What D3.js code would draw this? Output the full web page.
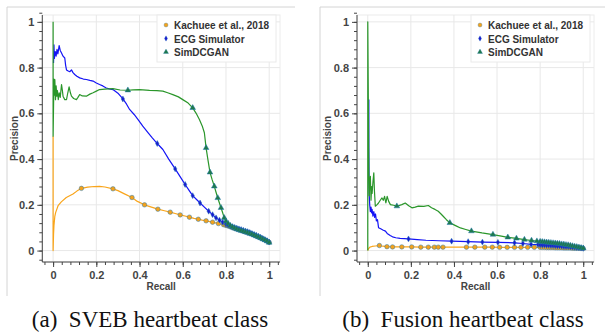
<!DOCTYPE html>
<html>
<head>
<meta charset="utf-8">
<script src="https://d3js.org/d3.v7.min.js"></script>
<style>
  body { margin: 0; background: #fff; }
  .tick text { font-family: "Liberation Sans", Arial, sans-serif; font-weight: bold; font-size: 11px; fill: #444; }
  .axis-label { font-family: "Liberation Sans", Arial, sans-serif; font-weight: bold; font-size: 10px; fill: #444; }
  .legend text { font-family: "Liberation Sans", Arial, sans-serif; font-weight: bold; font-size: 10px; fill: #333; }
  .caption { font-family: "Liberation Serif", "Times New Roman", serif; font-size: 23px; fill: #111; }
</style>
</head>
<body>
<svg width="605" height="332"></svg>
<script>
// legend names
const seriesNames = ['Kachuee et al., 2018', 'ECG Simulator', 'SimDCGAN'];
const tickValues = [0, 0.2, 0.4, 0.6, 0.8, 1];
const captions = ['(a)\u2002SVEB heartbeat class', '(b)\u2002Fusion heartbeat class'];

// recall values of the dense part at the end of every curve
const tailRecall = [0.80, 0.81, 0.82, 0.83, 0.84, 0.85, 0.86, 0.87, 0.88, 0.89, 0.90,
                    0.91, 0.92, 0.93, 0.94, 0.95, 0.96, 0.97, 0.98, 0.99, 1.00];

// ---- (a) SVEB: [recall, precision]
const svebKachuee = [[0,0.5],[0,0],[0.002,0.07],[0.004,0.11],[0.008,0.15],[0.012,0.167],[0.023,0.196],[0.038,0.213],
  [0.061,0.232],[0.092,0.247],[0.11,0.26],[0.131,0.272],[0.16,0.277],[0.19,0.28],[0.215,0.281],[0.24,0.278],
  [0.277,0.27],[0.3,0.262],[0.33,0.248],[0.365,0.232],[0.39,0.215],[0.423,0.2],[0.455,0.19],[0.485,0.181],
  [0.515,0.174],[0.542,0.168],[0.565,0.162],[0.588,0.156],[0.61,0.151],[0.631,0.146],[0.652,0.141],[0.672,0.137],
  [0.69,0.133],[0.708,0.13],[0.738,0.124],[0.765,0.118],[0.789,0.113]];
const svebKachueeTail = [0.110,0.107,0.104,0.100,0.097,0.094,0.091,0.088,0.085,0.082,0.079,
                         0.076,0.072,0.068,0.064,0.060,0.056,0.052,0.047,0.042,0.036];
const svebKachueeMarks = [[0.131,0.272],[0.277,0.27],[0.365,0.232],[0.423,0.2],[0.485,0.181],[0.542,0.168],
  [0.588,0.156],[0.631,0.146],[0.672,0.137],[0.708,0.13],[0.738,0.124],[0.765,0.118],[0.789,0.113]];

const svebEcg = [[0.002,0.82],[0.004,0.9],[0.006,0.84],[0.01,0.87],[0.014,0.85],[0.018,0.88],[0.022,0.86],
  [0.028,0.896],[0.033,0.875],[0.039,0.864],[0.046,0.85],[0.054,0.842],[0.058,0.81],[0.062,0.79],[0.07,0.785],
  [0.077,0.782],[0.085,0.79],[0.092,0.778],[0.1,0.77],[0.11,0.762],[0.123,0.755],[0.14,0.75],[0.154,0.748],
  [0.17,0.744],[0.185,0.741],[0.2,0.733],[0.215,0.726],[0.23,0.72],[0.246,0.711],[0.26,0.707],[0.277,0.704],
  [0.3,0.688],[0.323,0.663],[0.34,0.64],[0.354,0.617],[0.375,0.595],[0.395,0.57],[0.415,0.544],[0.44,0.515],
  [0.46,0.492],[0.482,0.468],[0.508,0.442],[0.535,0.4],[0.565,0.357],[0.59,0.32],[0.611,0.289],[0.63,0.262],
  [0.646,0.24],[0.665,0.222],[0.68,0.208],[0.7,0.19],[0.72,0.172],[0.738,0.157],[0.754,0.143],[0.77,0.133],
  [0.785,0.124]];
const svebEcgTail = [0.115,0.111,0.107,0.104,0.101,0.098,0.095,0.092,0.089,0.086,0.083,
                     0.079,0.075,0.071,0.067,0.063,0.058,0.053,0.048,0.043,0.037];
const svebEcgMarks = [[0.323,0.663],[0.482,0.468],[0.565,0.357],[0.611,0.289],[0.646,0.24],[0.68,0.208],
  [0.72,0.172],[0.738,0.157],[0.754,0.143],[0.77,0.133],[0.785,0.124]];

const svebSim = [[0,1],[0,0.5],[0.002,0.63],[0.004,0.75],[0.006,0.68],[0.008,0.748],[0.011,0.66],[0.014,0.72],
  [0.017,0.675],[0.02,0.7],[0.024,0.66],[0.028,0.69],[0.033,0.67],[0.039,0.726],[0.043,0.7],[0.046,0.675],
  [0.054,0.66],[0.062,0.66],[0.068,0.69],[0.074,0.716],[0.08,0.69],[0.085,0.675],[0.095,0.665],[0.108,0.66],
  [0.115,0.67],[0.123,0.682],[0.135,0.676],[0.154,0.675],[0.17,0.684],[0.185,0.69],[0.2,0.697],[0.215,0.704],
  [0.24,0.706],[0.277,0.708],[0.31,0.702],[0.346,0.701],[0.37,0.703],[0.4,0.704],[0.446,0.7],[0.48,0.699],
  [0.508,0.697],[0.53,0.69],[0.554,0.682],[0.58,0.672],[0.6,0.66],[0.625,0.645],[0.646,0.624],[0.662,0.6],
  [0.677,0.573],[0.69,0.545],[0.7,0.515],[0.708,0.449],[0.716,0.4],[0.726,0.342],[0.736,0.31],[0.746,0.281],
  [0.754,0.255],[0.762,0.23],[0.77,0.207],[0.777,0.187],[0.785,0.164],[0.792,0.143]];
const svebSimTail = [0.128,0.118,0.109,0.103,0.098,0.094,0.090,0.087,0.084,0.081,0.078,
                     0.074,0.071,0.067,0.063,0.059,0.055,0.050,0.046,0.041,0.035];
const svebSimMarks = [[0.346,0.701],[0.646,0.624],[0.708,0.449],[0.726,0.342],[0.746,0.281],[0.762,0.23],
  [0.777,0.187],[0.792,0.143]];

// ---- (b) Fusion
const fusionKachuee = [[0,0],[0.003,0.008],[0.01,0.015],[0.02,0.018],[0.035,0.02],[0.054,0.022],[0.07,0.019],
  [0.089,0.017],[0.115,0.016],[0.158,0.016],[0.204,0.016],[0.246,0.015],[0.281,0.015],[0.309,0.015],
  [0.327,0.015],[0.349,0.015],[0.458,0.015],[0.497,0.015],[0.543,0.015],[0.578,0.015],[0.612,0.014],
  [0.647,0.014],[0.681,0.014],[0.711,0.014],[0.742,0.014],[0.773,0.014]];
const fusionKachueeTail = [0.014,0.014,0.014,0.013,0.013,0.013,0.013,0.012,0.012,0.012,0.012,
                           0.011,0.011,0.011,0.011,0.010,0.010,0.010,0.010,0.009,0.009];
const fusionKachueeMarks = [[0.054,0.022],[0.089,0.017],[0.115,0.016],[0.158,0.016],[0.204,0.016],[0.246,0.015],
  [0.281,0.015],[0.309,0.015],[0.327,0.015],[0.349,0.015],[0.458,0.015],[0.497,0.015],[0.543,0.015],
  [0.578,0.015],[0.612,0.014],[0.647,0.014],[0.681,0.014],[0.711,0.014],[0.742,0.014],[0.773,0.014]];

const fusionEcg = [[0.005,0.66],[0.005,0.45],[0.006,0.3],[0.007,0.24],[0.009,0.2],[0.012,0.17],[0.015,0.19],
  [0.018,0.165],[0.02,0.18],[0.024,0.15],[0.028,0.17],[0.032,0.145],[0.036,0.16],[0.04,0.13],[0.045,0.135],
  [0.05,0.1],[0.06,0.095],[0.07,0.09],[0.082,0.085],[0.09,0.075],[0.104,0.066],[0.115,0.06],[0.13,0.056],
  [0.15,0.053],[0.189,0.051],[0.23,0.048],[0.27,0.045],[0.33,0.043],[0.389,0.041],[0.466,0.039],[0.532,0.037],
  [0.604,0.036],[0.681,0.034],[0.72,0.031],[0.758,0.027],[0.79,0.026]];
const fusionEcgTail = [0.025,0.024,0.024,0.023,0.023,0.022,0.022,0.021,0.020,0.020,0.019,
                       0.018,0.017,0.017,0.016,0.015,0.014,0.013,0.012,0.011,0.010];
const fusionEcgMarks = [[0.189,0.051],[0.389,0.041],[0.466,0.039],[0.532,0.037],[0.604,0.036],[0.681,0.034],
  [0.72,0.031],[0.758,0.027],[0.79,0.026]];

const fusionSim = [[0,0],[0,1],[0.003,0.6],[0.005,0.35],[0.007,0.24],[0.009,0.3],[0.012,0.325],[0.015,0.22],
  [0.018,0.28],[0.02,0.25],[0.024,0.3],[0.028,0.34],[0.031,0.26],[0.035,0.194],[0.042,0.2],[0.05,0.208],
  [0.058,0.22],[0.066,0.23],[0.072,0.22],[0.078,0.237],[0.084,0.208],[0.09,0.237],[0.097,0.215],[0.105,0.201],
  [0.12,0.198],[0.135,0.194],[0.158,0.201],[0.174,0.208],[0.19,0.196],[0.205,0.187],[0.22,0.19],[0.235,0.194],
  [0.26,0.193],[0.281,0.197],[0.296,0.187],[0.312,0.18],[0.327,0.172],[0.34,0.16],[0.35,0.15],[0.365,0.135],
  [0.381,0.121],[0.41,0.108],[0.43,0.099],[0.455,0.092],[0.481,0.085],[0.53,0.077],[0.581,0.07],[0.62,0.063],
  [0.65,0.058],[0.69,0.053],[0.727,0.048],[0.76,0.044],[0.785,0.041]];
const fusionSimTail = [0.039,0.038,0.037,0.036,0.035,0.034,0.033,0.032,0.031,0.030,0.028,
                       0.027,0.025,0.024,0.022,0.020,0.018,0.016,0.014,0.012,0.010];
const fusionSimMarks = [[0.135,0.194],[0.381,0.121],[0.481,0.085],[0.581,0.07],[0.65,0.058],[0.69,0.053],
  [0.727,0.048],[0.76,0.044],[0.785,0.041]];

const colors = ['#f9a51b', '#1414f5', '#2a962a'];
const markFill = ['#f4a21c', '#1a1ad0', '#1f7a4a'];
const symbols = [d3.symbolCircle, d3.symbolDiamond, d3.symbolTriangle];
const symSize = [16, 10, 14];

const withTail = (pts, tail) => pts.concat(tailRecall.map((r, i) => [r, tail[i]]));

const panels = [
  { left: 7, axisX: 42.3, right: 280, legendX: 157, caption: captions[0],
    series: [
      { line: withTail(svebKachuee, svebKachueeTail), marks: svebKachueeMarks.concat(tailRecall.map((r, i) => [r, svebKachueeTail[i]])) },
      { line: withTail(svebEcg, svebEcgTail), marks: svebEcgMarks.concat(tailRecall.map((r, i) => [r, svebEcgTail[i]])) },
      { line: withTail(svebSim, svebSimTail), marks: svebSimMarks.concat(tailRecall.map((r, i) => [r, svebSimTail[i]])) }
    ] },
  { left: 320, axisX: 357, right: 594, legendX: 471, caption: captions[1],
    series: [
      { line: withTail(fusionKachuee, fusionKachueeTail), marks: fusionKachueeMarks.concat(tailRecall.map((r, i) => [r, fusionKachueeTail[i]])) },
      { line: withTail(fusionEcg, fusionEcgTail), marks: fusionEcgMarks.concat(tailRecall.map((r, i) => [r, fusionEcgTail[i]])) },
      { line: withTail(fusionSim, fusionSimTail), marks: fusionSimMarks.concat(tailRecall.map((r, i) => [r, fusionSimTail[i]])) }
    ] }
];

const svg = d3.select('svg');
const plotTop = 15, plotBottom = 262;
const minorTicks = d3.range(-0.04, 1.041, 0.04).map(v => +v.toFixed(2));

panels.forEach(p => {
  const g = svg.append('g');

  // light frame around each sub-figure
  g.append('path')
    .attr('d', `M${p.left},296V7H${p.left + 288}`)
    .attr('fill', 'none').attr('stroke', '#d4d4d4').attr('stroke-width', 1);

  const x = d3.scaleLinear().domain([-0.05, 1.05]).range([p.axisX, p.right]);
  const y = d3.scaleLinear().domain([-0.05, 1.03]).range([plotBottom, plotTop]);

  // plot outline + grid
  g.append('rect')
    .attr('x', p.axisX).attr('y', plotTop)
    .attr('width', p.right - p.axisX).attr('height', plotBottom - plotTop)
    .attr('fill', 'none').attr('stroke', '#ececec');
  g.selectAll('.vgrid').data(tickValues).enter().append('line')
    .attr('x1', d => x(d)).attr('x2', d => x(d))
    .attr('y1', plotTop).attr('y2', plotBottom)
    .attr('stroke', '#e8e8e8');
  g.selectAll('.hgrid').data(tickValues).enter().append('line')
    .attr('y1', d => y(d)).attr('y2', d => y(d))
    .attr('x1', p.axisX).attr('x2', p.right)
    .attr('stroke', '#e8e8e8');

  // axes
  const fmt = d => d === 0 || d === 1 ? String(d) : d.toFixed(1);
  const yAxisG = g.append('g').attr('transform', `translate(${p.axisX},0)`)
    .call(d3.axisLeft(y).tickValues(tickValues).tickFormat(fmt).tickSize(5).tickPadding(3));
  g.append('g').attr('transform', `translate(${p.axisX},0)`)
    .call(d3.axisLeft(y).tickValues(minorTicks).tickFormat('').tickSize(3))
    .select('.domain').remove();
  const xAxisG = g.append('g').attr('transform', `translate(0,${plotBottom})`)
    .call(d3.axisBottom(x).tickValues(tickValues).tickFormat(fmt).tickSize(5).tickPadding(4));
  g.append('g').attr('transform', `translate(0,${plotBottom})`)
    .call(d3.axisBottom(x).tickValues(minorTicks).tickFormat('').tickSize(3))
    .select('.domain').remove();
  svg.selectAll('.domain').attr('stroke', '#444');
  svg.selectAll('.tick line').attr('stroke', '#444');
  yAxisG.select('.domain').attr('d', `M0,${plotBottom}V${plotTop}`);
  xAxisG.select('.domain').attr('d', `M${p.axisX},0H${p.right}`);

  g.append('text').attr('class', 'axis-label')
    .attr('transform', `translate(${p.left + 10.5},${(plotTop + plotBottom) / 2}) rotate(-90)`)
    .attr('text-anchor', 'middle').text('Precision');
  g.append('text').attr('class', 'axis-label')
    .attr('x', (p.axisX + p.right) / 2).attr('y', 290)
    .attr('text-anchor', 'middle').text('Recall');

  // lines
  const line = d3.line().x(d => x(d[0])).y(d => y(d[1]));
  p.series.forEach((s, i) => {
    g.append('path').datum(s.line)
      .attr('d', line)
      .attr('fill', 'none')
      .attr('stroke', colors[i])
      .attr('stroke-width', 1.2)
      .attr('stroke-linejoin', 'round');
  });
  // markers
  p.series.forEach((s, i) => {
    g.selectAll(null).data(s.marks).enter().append('path')
      .attr('d', d3.symbol().type(symbols[i]).size(symSize[i]))
      .attr('transform', d => `translate(${x(d[0])},${y(d[1])})`)
      .attr('fill', markFill[i])
      .attr('stroke', '#1f77b4')
      .attr('stroke-opacity', 0.6)
      .attr('stroke-width', 0.8);
  });

  // legend
  const lg = g.append('g').attr('class', 'legend')
    .attr('transform', `translate(${p.legendX},15)`);
  lg.append('rect').attr('width', 119).attr('height', 47)
    .attr('fill', '#fff').attr('stroke', '#eaeaea');
  seriesNames.forEach((name, i) => {
    lg.append('path')
      .attr('d', d3.symbol().type(symbols[i]).size(symSize[i] * 0.8))
      .attr('transform', `translate(9,${10 + i * 13.5})`)
      .attr('fill', markFill[i]).attr('stroke', '#1f77b4')
      .attr('stroke-opacity', 0.5).attr('stroke-width', 0.6);
    lg.append('text').attr('x', 17).attr('y', 14 + i * 13.5).text(name);
  });

  // caption
  svg.append('text').attr('class', 'caption')
    .attr('x', p.left + 143).attr('y', 327)
    .attr('text-anchor', 'middle')
    .text(p.caption);
});
</script>
</body>
</html>
